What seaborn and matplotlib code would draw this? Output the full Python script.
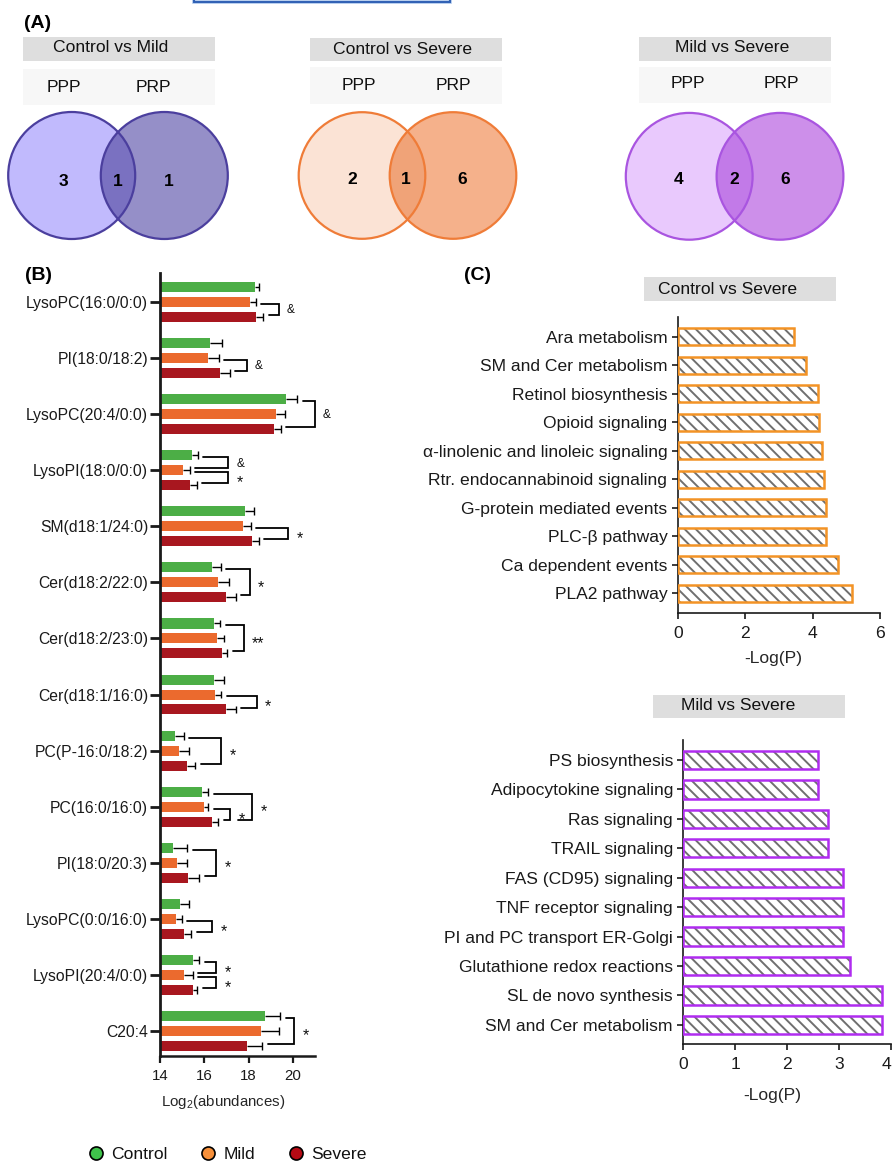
import numpy as np
import pandas as pd
import matplotlib
matplotlib.use("Agg")
import matplotlib.pyplot as plt
from matplotlib.patches import Circle, Rectangle
from matplotlib.lines import Line2D
import seaborn as sns

# ---------------- data ----------------
# (A) overlap of altered pathways between platelet-poor (PPP) and platelet-rich (PRP) plasma
venn_titles = ["Control vs Mild", "Control vs Severe", "Mild vs Severe"]
venn_sets = ["PPP", "PRP"]
venn_only_ppp = [3, 2, 4]
venn_shared = [1, 1, 2]
venn_only_prp = [1, 6, 6]

# (B) lipid abundances, mean and SEM per group
groups = ["Control", "Mild", "Severe"]
lipids = [
    "LysoPC(16:0/0:0)", "PI(18:0/18:2)", "LysoPC(20:4/0:0)", "LysoPI(18:0/0:0)",
    "SM(d18:1/24:0)", "Cer(d18:2/22:0)", "Cer(d18:2/23:0)", "Cer(d18:1/16:0)",
    "PC(P-16:0/18:2)", "PC(16:0/16:0)", "PI(18:0/20:3)", "LysoPC(0:0/16:0)",
    "LysoPI(20:4/0:0)", "C20:4",
]
control_mean = [18.28, 16.25, 19.68, 15.43, 17.86, 16.34, 16.42, 16.42, 14.69, 15.89, 14.59, 14.89, 15.49, 18.73]
mild_mean = [18.05, 16.16, 19.24, 15.02, 17.77, 16.64, 16.58, 16.49, 14.86, 15.97, 14.77, 14.71, 15.10, 18.56]
severe_mean = [18.35, 16.70, 19.16, 15.37, 18.16, 16.99, 16.79, 16.99, 15.22, 16.34, 15.27, 15.08, 15.47, 17.92]
control_sem = [0.20, 0.57, 0.52, 0.27, 0.39, 0.40, 0.29, 0.45, 0.38, 0.29, 0.63, 0.42, 0.27, 0.71]
mild_sem = [0.27, 0.50, 0.40, 0.33, 0.33, 0.46, 0.32, 0.27, 0.43, 0.21, 0.45, 0.27, 0.38, 0.81]
severe_sem = [0.30, 0.45, 0.30, 0.29, 0.30, 0.44, 0.24, 0.42, 0.36, 0.29, 0.50, 0.33, 0.21, 0.69]

# significance marks: (lipid index, group a, group b, label)
sig_lipid = [0, 1, 2, 3, 3, 4, 5, 6, 7, 8, 9, 9, 10, 11, 12, 12, 13]
sig_group_a = [1, 1, 0, 0, 1, 1, 0, 0, 1, 0, 0, 1, 0, 1, 0, 1, 0]
sig_group_b = [2, 2, 2, 1, 2, 2, 2, 2, 2, 2, 2, 2, 2, 2, 1, 2, 2]
sig_label = ["&", "&", "&", "&", "*", "*", "*", "**", "*", "*", "*", "*", "*", "*", "*", "*", "*"]

# (C) enriched pathways, -log(P)
cs_pathways = [
    "Ara metabolism", "SM and Cer metabolism", "Retinol biosynthesis", "Opioid signaling",
    "α-linolenic and linoleic signaling", "Rtr. endocannabinoid signaling",
    "G-protein mediated events", "PLC-β pathway", "Ca dependent events", "PLA2 pathway",
]
cs_logp = [3.45, 3.80, 4.15, 4.19, 4.29, 4.34, 4.39, 4.39, 4.74, 5.16]
ms_pathways = [
    "PS biosynthesis", "Adipocytokine signaling", "Ras signaling", "TRAIL signaling",
    "FAS (CD95) signaling", "TNF receptor signaling", "PI and PC transport ER-Golgi",
    "Glutathione redox reactions", "SL de novo synthesis", "SM and Cer metabolism",
]
ms_logp = [2.60, 2.60, 2.78, 2.78, 3.08, 3.08, 3.08, 3.22, 3.83, 3.83]

# ---------------- style ----------------
sns.set_theme(style="ticks")
plt.rcParams["font.family"] = ["Liberation Sans", "DejaVu Sans"]
plt.rcParams["mathtext.fontset"] = "custom"
plt.rcParams["mathtext.rm"] = "Liberation Sans"
plt.rcParams["hatch.linewidth"] = 1.4
plt.rcParams["axes.edgecolor"] = "#1a1a1a"
plt.rcParams["xtick.color"] = "#1a1a1a"
plt.rcParams["ytick.color"] = "#1a1a1a"
plt.rcParams["text.color"] = "#111111"

W, H = 892, 1164
fig = plt.figure(figsize=(W / 100, H / 100), dpi=100)
fig.patch.set_facecolor("white")


def frame(x0, y0, x1, y1):
    """Axes rectangle from pixel edges (origin top-left)."""
    return [x0 / W, 1 - y1 / H, (x1 - x0) / W, (y1 - y0) / H]


# full-figure layer in pixel units for the Venn panel, headers and letters
canvas = fig.add_axes([0, 0, 1, 1])
canvas.set_xlim(0, W)
canvas.set_ylim(H, 0)
canvas.axis("off")

canvas.add_patch(Rectangle((194, -10), 256, 12, fill=False, ec="#a9c4ea", lw=2.6))
canvas.add_patch(Rectangle((194, -10), 256, 12, fill=False, ec="#2f60b4", lw=1.4))

LETTER = dict(fontsize=14, fontweight="bold", va="center", ha="left", color="black")
canvas.text(24, 24, "(A)", **LETTER)
canvas.text(25, 275, "(B)", **LETTER)
canvas.text(464, 275, "(C)", **LETTER)

# ---------------- (A) Venn diagrams ----------------
venn_geom = [
    dict(lx=71.7, rx=164.3, cy=175.5, r=63.5, bx0=23, bx1=215, tx=111, ty=48,
         px=64, qx=153, sy=87, b1=(37, 61), b2=(69, 105), ny=182, nx=(63, 117.5, 169)),
    dict(lx=362, rx=453, cy=175.5, r=63.3, bx0=310, bx1=502, tx=403, ty=49,
         px=359, qx=453, sy=85, b1=(38, 61), b2=(67, 104), ny=180, nx=(352, 406, 462.5)),
    dict(lx=689.2, rx=780, cy=176.3, r=63.4, bx0=639, bx1=831, tx=732, ty=47,
         px=687.5, qx=781, sy=84, b1=(37, 61), b2=(67, 103), ny=179.5, nx=(679, 734, 785)),
]
venn_colors = [
    ("#c1bafd", "#958fc8", "#7a71c1", "#4b3f9e"),
    ("#fbe3d5", "#f5b18b", "#f0a378", "#ef7c38"),
    ("#e9c9fd", "#cd8fea", "#c27ae8", "#a955e0"),
]

for k, g in enumerate(venn_geom):
    left_c, right_c, both_c, edge_c = venn_colors[k]
    canvas.add_patch(Rectangle((g["bx0"], g["b1"][0]), g["bx1"] - g["bx0"], g["b1"][1] - g["b1"][0],
                               fc="#dedede", ec="none"))
    canvas.add_patch(Rectangle((g["bx0"], g["b2"][0]), g["bx1"] - g["bx0"], g["b2"][1] - g["b2"][0],
                               fc="#f7f7f7", ec="none"))
    canvas.text(g["tx"], g["ty"], venn_titles[k], fontsize=12.6, ha="center", va="center", color="#111111")
    canvas.text(g["px"], g["sy"], venn_sets[0], fontsize=12.6, ha="center", va="center", color="#111111")
    canvas.text(g["qx"], g["sy"], venn_sets[1], fontsize=12.6, ha="center", va="center", color="#111111")

    left = Circle((g["lx"], g["cy"]), g["r"], fc=left_c, ec="none")
    right = Circle((g["rx"], g["cy"]), g["r"], fc=right_c, ec="none")
    canvas.add_patch(left)
    canvas.add_patch(right)
    both = Circle((g["rx"], g["cy"]), g["r"], fc=both_c, ec="none")
    canvas.add_patch(both)
    both.set_clip_path(left)
    canvas.add_patch(Circle((g["lx"], g["cy"]), g["r"], fill=False, ec=edge_c, lw=1.6))
    canvas.add_patch(Circle((g["rx"], g["cy"]), g["r"], fill=False, ec=edge_c, lw=1.6))

    counts = [venn_only_ppp[k], venn_shared[k], venn_only_prp[k]]
    for x, n in zip(g["nx"], counts):
        canvas.text(x, g["ny"], str(n), fontsize=12.5, fontweight="bold", ha="center", va="center",
                    color="black")

# ---------------- (B) lipid abundances ----------------
bar_colors = ["#4cae46", "#eb6a2e", "#a8171f"]
legend_colors = ["#3fc24b", "#f7903a", "#b50a14"]

df = pd.DataFrame({
    "lipid": lipids * 3,
    "group": np.repeat(groups, len(lipids)),
    "abundance": control_mean + mild_mean + severe_mean,
})

axB = fig.add_axes(frame(160, 273, 315, 1056))
sns.barplot(data=df, x="abundance", y="lipid", hue="group", order=lipids, hue_order=groups,
            palette=bar_colors, orient="h", width=0.8, gap=0.33, errorbar=None, saturation=1,
            legend=False, linewidth=0, ax=axB)

offsets = [-0.8 / 3, 0.0, 0.8 / 3]
means = [control_mean, mild_mean, severe_mean]
sems = [control_sem, mild_sem, severe_sem]
for gi in range(3):
    ys = np.arange(len(lipids)) + offsets[gi]
    m = np.array(means[gi])
    e = np.array(sems[gi])
    axB.hlines(ys, m, m + e, color="black", lw=1.0, zorder=3)
    axB.vlines(m + e, ys - 0.07, ys + 0.07, color="black", lw=1.0, zorder=3)

# bracket x-positions for the significance marks
bracket_x = [19.37, 17.93, 20.98, 17.09, 17.09, 19.78, 18.05, 17.78, 18.36, 16.75, 18.16, 17.17,
             16.54, 16.36, 16.54, 16.54, 20.05]
bottom_start = {10: 17.50}
for n in range(len(sig_lipid)):
    i, a, b, xb = sig_lipid[n], sig_group_a[n], sig_group_b[n], bracket_x[n]
    ya = i + offsets[a] + 0.035
    yb = i + offsets[b] - 0.035
    xa0 = means[a][i] + sems[a][i] + 0.25
    xb0 = bottom_start.get(n, means[b][i] + sems[b][i] + 0.25)
    axB.plot([xa0, xb, xb, xb0], [ya, ya, yb, yb], color="black", lw=1.3, clip_on=False,
             solid_joinstyle="miter", zorder=3)
    lab = sig_label[n]
    ymid = (ya + yb) / 2
    if lab == "&":
        axB.text(xb + 0.36, ymid + 0.07, lab, fontsize=8.5, ha="left", va="baseline", clip_on=False)
    else:
        axB.text(xb + 0.38, ymid + 0.17, lab, fontsize=11.5, ha="left", va="baseline", clip_on=False)

axB.set_xlim(14, 21)
axB.set_ylim(len(lipids) - 1 + 0.446, -0.517)
axB.set_xticks([14, 16, 18, 20])
axB.set_ylabel("")
axB.set_xlabel(r"Log$_\mathregular{2}$(abundances)", fontsize=10.8)
axB.xaxis.set_label_coords(0.405, -0.0587)
axB.xaxis.label.set_verticalalignment("center")
sns.despine(ax=axB)
axB.spines["left"].set_linewidth(2.0)
axB.spines["bottom"].set_linewidth(1.8)
axB.tick_params(axis="y", length=7, width=2.0, pad=1.5, labelsize=11.3)
axB.tick_params(axis="x", length=5, width=1.6, pad=4, labelsize=10.8)

fig.legend(
    [Line2D([], [], marker="o", ls="", markersize=9.4, markerfacecolor=c, markeredgecolor="black",
            markeredgewidth=1.2) for c in legend_colors],
    groups, loc="center left", bbox_to_anchor=(87 / W, 1 - 1154 / H), ncol=3, frameon=False,
    fontsize=12.6, handlelength=1.0, handletextpad=0.4, columnspacing=1.8, borderpad=0,
    borderaxespad=0,
)

# ---------------- (C) pathway enrichment ----------------


def pathway_panel(ax, names, logp, edge, bar_h):
    sns.barplot(x=logp, y=names, orient="h", color="white", width=bar_h, saturation=1,
                linewidth=0, ax=ax)
    for p in list(ax.patches):
        p.set_hatch("\\\\\\")
        p.set_edgecolor("#6f6f6f")
        p.set_linewidth(0)
        ax.add_patch(Rectangle(p.get_xy(), p.get_width(), p.get_height(), fill=False, ec=edge,
                               lw=1.8, zorder=3))
    sns.despine(ax=ax)
    for s in ("left", "bottom"):
        ax.spines[s].set_linewidth(1.2)
    ax.set_ylabel("")
    ax.set_xlabel("-Log(P)", fontsize=12.6)
    ax.xaxis.label.set_verticalalignment("center")
    ax.tick_params(axis="y", length=4.5, width=1.2, pad=3, labelsize=12.6)
    ax.tick_params(axis="x", length=4.5, width=1.2, pad=5, labelsize=12.6)


axC1 = fig.add_axes(frame(677.7, 317, 880, 613.3))
pathway_panel(axC1, cs_pathways, cs_logp, "#f39325", 0.585)
axC1.set_xlim(0, 6)
axC1.set_xticks([0, 2, 4, 6])
axC1.set_ylim(9.7, -0.69)
axC1.xaxis.set_label_coords(0.471, -0.151)

axC2 = fig.add_axes(frame(683.3, 740, 891, 1044.3))
pathway_panel(axC2, ms_pathways, ms_logp, "#b02cf0", 0.62)
axC2.set_xlim(0, 4)
axC2.set_xticks([0, 1, 2, 3, 4])
axC2.set_ylim(9.66, -0.68)
axC2.xaxis.set_label_coords(0.427, -0.167)
# keep the last tick label inside the figure's right edge
axC2.get_xticklabels()[-1].set_horizontalalignment("right")

for (x0, y0, x1, y1, tx, ty, title) in [
    (644, 277, 836, 301, 728, 289, "Control vs Severe"),
    (653, 695, 845, 718, 738, 705.5, "Mild vs Severe"),
]:
    canvas.add_patch(Rectangle((x0, y0), x1 - x0, y1 - y0, fc="#dedede", ec="none"))
    canvas.text(tx, ty, title, fontsize=12.6, ha="center", va="center", color="#111111")

fig.savefig("out.png", dpi=100)
